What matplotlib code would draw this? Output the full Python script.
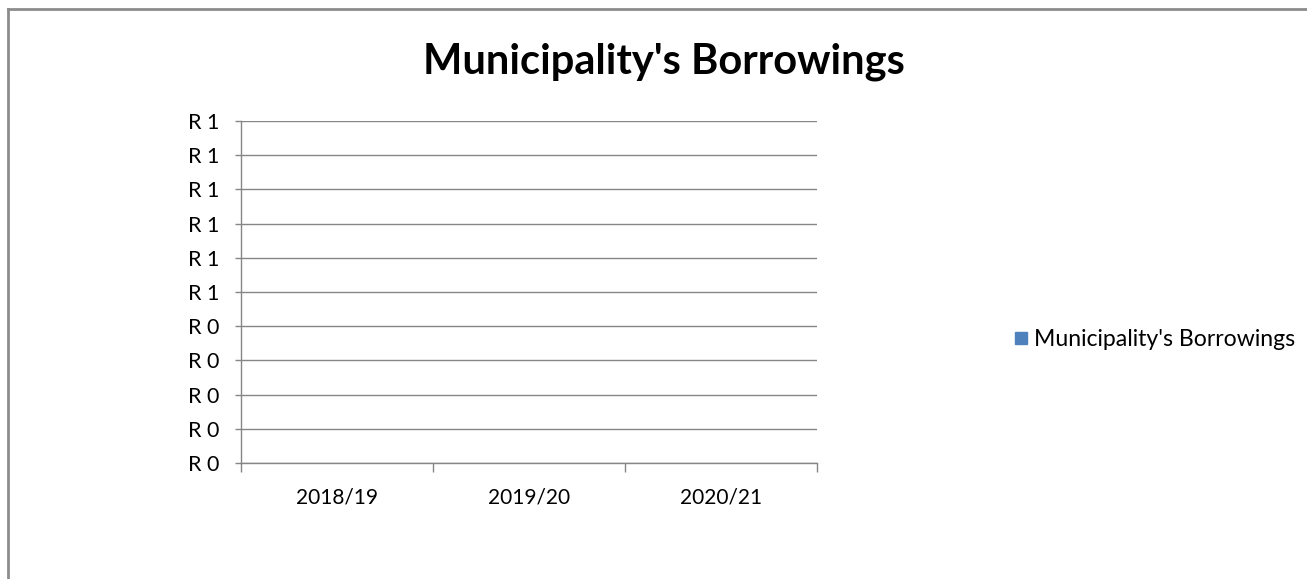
import math

import matplotlib.pyplot as plt
import numpy as np
from matplotlib.lines import Line2D
from matplotlib.ticker import FuncFormatter

# Chart data (all borrowings are zero, so no bars show)
periods = ["2018/19", "2019/20", "2020/21"]
borrowings = [0, 0, 0]
y_ticks = np.linspace(0, 1, 11)

series_name = "Municipality's Borrowings"
bar_color = "#4F81BD"
grid_color = "#868686"

plt.rcParams["font.family"] = ["Lato", "DejaVu Sans"]

fig = plt.figure(figsize=(13.07, 5.79), dpi=100)
ax = fig.add_axes([241 / 1307, 1 - 463 / 579, 576 / 1307, 342 / 579])

x = np.arange(len(periods))
ax.bar(x, borrowings, width=0.6, color=bar_color, label=series_name)

ax.set_xlim(-0.5, len(periods) - 0.5)
ax.set_ylim(0, 1)

# Excel style currency labels, rounded half up
ax.set_yticks(y_ticks)
ax.yaxis.set_major_formatter(
    FuncFormatter(lambda v, _: f"R {math.floor(v + 0.5 + 1e-9)}")
)
ax.grid(axis="y", color=grid_color, linewidth=1)
ax.set_axisbelow(True)

# category labels in the middle, tick marks on the boundaries
ax.set_xticks(x)
ax.set_xticklabels(periods)
ax.set_xticks(np.arange(len(periods) + 1) - 0.5, minor=True)
ax.tick_params(axis="x", which="major", length=0, pad=18, labelsize=15)
ax.tick_params(axis="x", which="minor", length=6.5, color=grid_color, width=1)
ax.tick_params(axis="y", length=4.3, color=grid_color, width=1, pad=11, labelsize=15.5)

for side in ["top", "right"]:
    ax.spines[side].set_visible(False)
for side in ["left", "bottom"]:
    ax.spines[side].set_color(grid_color)
    ax.spines[side].set_linewidth(1)

fig.text(664 / 1307, 1 - 62 / 579, series_name, ha="center", va="center",
         fontsize=30, fontweight="bold")

handle = Line2D([], [], marker="s", linestyle="none", color=bar_color, markersize=9)
fig.legend([handle], [series_name], loc="center left",
           bbox_to_anchor=(1011 / 1307, 1 - 340 / 579), frameon=False,
           fontsize=16.6, handletextpad=0.1, handlelength=0.9,
           borderpad=0, borderaxespad=0)

# chart frame (only top and left edges are inside the picture)
fig.add_artist(Line2D([8 / 1307, 1], [1 - 9 / 579, 1 - 9 / 579],
                      transform=fig.transFigure, color="#8c8c8c", linewidth=2))
fig.add_artist(Line2D([8 / 1307, 8 / 1307], [0, 1 - 9 / 579],
                      transform=fig.transFigure, color="#8c8c8c", linewidth=2))

fig.savefig("out.png", dpi=100)
